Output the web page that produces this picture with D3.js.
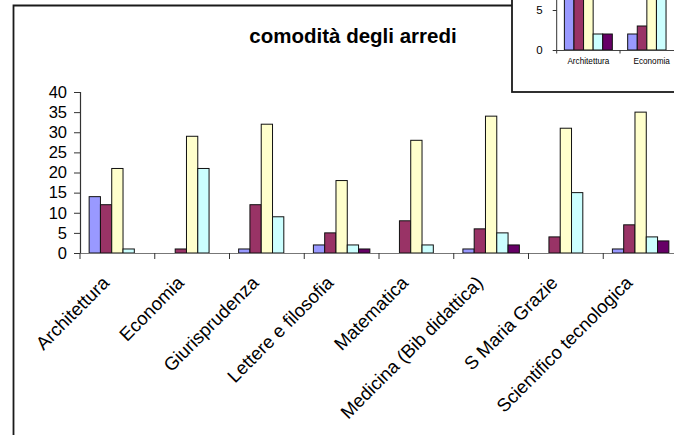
<!DOCTYPE html>
<html>
<head>
<meta charset="utf-8">
<script src="https://cdn.jsdelivr.net/npm/d3@7"></script>
<style>
  html, body { margin: 0; padding: 0; background: #fff; }
  svg { display: block; font-family: "Liberation Sans", Arial, sans-serif; }
</style>
</head>
<body>
<svg id="chart" width="674" height="435"></svg>
<script>
// Main chart: "comodità degli arredi"
const categories = [
  "Architettura", "Economia", "Giurisprudenza", "Lettere e filosofia",
  "Matematica", "Medicina (Bib didattica)", "S Maria Grazie", "Scientifico tecnologica"
];
const seriesNames = ["s1", "s2", "s3", "s4", "s5"];
const seriesColors = ["#9999FF", "#993366", "#FFFFCC", "#CCFFFF", "#660066"];
const s1 = [14, 0, 1, 2, 0, 1, 0, 1];
const s2 = [12, 1, 12, 5, 8, 6, 4, 7];
const s3 = [21, 29, 32, 18, 28, 34, 31, 35];
const s4 = [1, 21, 9, 2, 2, 5, 15, 4];
const s5 = [0, 0, 0, 1, 0, 2, 0, 3];
const yTicks = [0, 5, 10, 15, 20, 25, 30, 35, 40];

// Chart partly hidden behind it (top right corner)
const insetCategories = ["Architettura", "Economia"];
const i1 = [9, 2];
const i2 = [10, 3];
const i3 = [14, 17];
const i4 = [2, 11];
const i5 = [2, 0];
const insetTicks = [0, 5];

const svg = d3.select("#chart");
const series = [s1, s2, s3, s4, s5];
const insetSeries = [i1, i2, i3, i4, i5];

// outer chart frame
svg.append("path")
  .attr("d", "M13.5,440 V5.5 H512")
  .attr("fill", "none").attr("stroke", "#1a1a1a").attr("stroke-width", 1.8);

svg.append("text")
  .attr("x", 353).attr("y", 42.5)
  .attr("text-anchor", "middle")
  .attr("font-size", "20.5px").attr("font-weight", "bold")
  .attr("fill", "#000")
  .text("comodità degli arredi");

const x0 = 80, step = 74.75;
const x = d3.scaleBand().domain(categories).range([x0, x0 + step * categories.length]).padding(0);
const xs = d3.scaleBand().domain(seriesNames).range([0, x.bandwidth()]).paddingInner(0).paddingOuter(0.81);
const y = d3.scaleLinear().domain([0, 40]).range([253, 92]);

const g = svg.append("g");

// bars
categories.forEach((c, ci) => {
  series.forEach((arr, si) => {
    const v = arr[ci];
    if (v <= 0) return;
    g.append("rect")
      .attr("x", x(c) + xs(seriesNames[si]))
      .attr("y", y(v))
      .attr("width", xs.bandwidth())
      .attr("height", y(0) - y(v))
      .attr("fill", seriesColors[si])
      .attr("stroke", "#111").attr("stroke-width", 1);
  });
});

// y axis
const yAxis = g.append("g").attr("transform", `translate(${x0},0)`)
  .call(d3.axisLeft(y).tickValues(yTicks).tickSize(6).tickPadding(7).tickFormat(d3.format("d")));
yAxis.select(".domain").attr("stroke", "#333").attr("stroke-width", 1.2);
yAxis.selectAll(".tick line").attr("stroke", "#333");
yAxis.selectAll("text").attr("font-size", "16.5px").attr("fill", "#000")
  .attr("font-family", "Liberation Sans, Arial, sans-serif");

// x axis with category boundary ticks
const bounds = d3.range(categories.length + 1).map(i => x0 + i * step);
g.append("line").attr("x1", x0).attr("x2", 700).attr("y1", y(0) + 0.5).attr("y2", y(0) + 0.5)
  .attr("stroke", "#777").attr("stroke-width", 1.2);
g.selectAll(".xt").data(bounds).join("line")
  .attr("x1", d => d).attr("x2", d => d)
  .attr("y1", y(0)).attr("y2", y(0) + 6)
  .attr("stroke", "#333");

// rotated category labels
g.selectAll(".xl").data(categories).join("text")
  .attr("text-anchor", "end")
  .attr("font-size", "18.5px").attr("fill", "#000")
  .attr("transform", d => `translate(${x(d) + x.bandwidth() / 2 - 7},${y(0) + 31}) rotate(-45)`)
  .text(d => d);

// inset chart (white panel in the corner)
const ins = svg.append("g");
ins.append("rect").attr("x", 512).attr("y", -5).attr("width", 200).attr("height", 97)
  .attr("fill", "#fff").attr("stroke", "#1a1a1a").attr("stroke-width", 1.8);

const ix0 = 556.7, istep = 63.3;
const ix = d3.scaleBand().domain(insetCategories).range([ix0, ix0 + istep * insetCategories.length]).padding(0);
const ixs = d3.scaleBand().domain(seriesNames).range([0, ix.bandwidth()]).paddingInner(0).paddingOuter(0.8);
const iy = d3.scaleLinear().domain([0, 5]).range([50, 10]);

insetCategories.forEach((c, ci) => {
  insetSeries.forEach((arr, si) => {
    const v = arr[ci];
    if (v <= 0) return;
    ins.append("rect")
      .attr("x", ix(c) + ixs(seriesNames[si]))
      .attr("y", iy(v))
      .attr("width", ixs.bandwidth())
      .attr("height", iy(0) - iy(v))
      .attr("fill", seriesColors[si])
      .attr("stroke", "#111").attr("stroke-width", 1);
  });
});

const iAxis = ins.append("g").attr("transform", `translate(${ix0},0)`)
  .call(d3.axisLeft(iy).tickValues(insetTicks).tickSize(4).tickPadding(10).tickFormat(d3.format("d")));
iAxis.select(".domain").attr("d", `M0,-10V${iy(0)}`).attr("stroke", "#333");
iAxis.selectAll(".tick line").attr("stroke", "#333");
iAxis.selectAll("text").attr("font-size", "11.5px").attr("fill", "#000")
  .attr("font-family", "Liberation Sans, Arial, sans-serif");

ins.append("line").attr("x1", ix0).attr("x2", 700).attr("y1", iy(0) + 0.5).attr("y2", iy(0) + 0.5)
  .attr("stroke", "#444");
ins.selectAll(".ixt").data(d3.range(insetCategories.length + 1).map(i => ix0 + i * istep)).join("line")
  .attr("x1", d => d).attr("x2", d => d)
  .attr("y1", iy(0)).attr("y2", iy(0) + 3.5)
  .attr("stroke", "#333");
ins.selectAll(".ixl").data(insetCategories).join("text")
  .attr("x", d => ix(d) + ix.bandwidth() / 2)
  .attr("y", 63.5)
  .attr("text-anchor", "middle")
  .attr("font-size", "8.2px").attr("fill", "#000")
  .text(d => d);
</script>
</body>
</html>
